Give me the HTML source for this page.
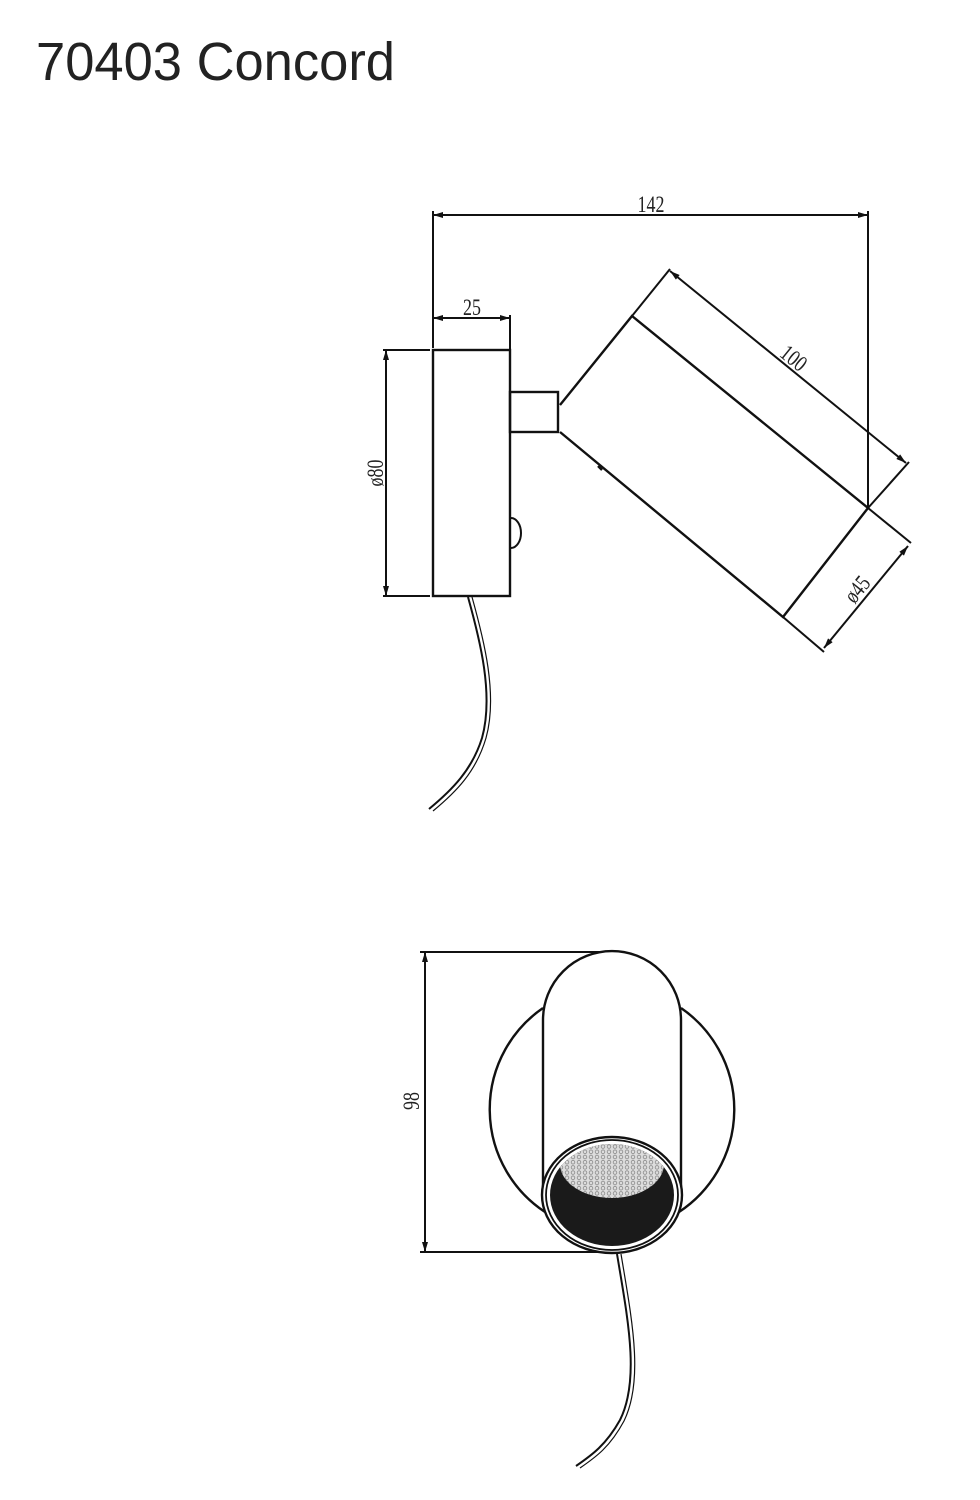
<!DOCTYPE html>
<html><head><meta charset="utf-8"><style>
html,body{margin:0;padding:0;background:#fff;}
svg{display:block;}
</style></head><body>
<svg width="980" height="1500" viewBox="0 0 980 1500" xmlns="http://www.w3.org/2000/svg">
<defs>
<marker id="a" viewBox="0 0 10 6" refX="10" refY="3" markerWidth="11" markerHeight="6" markerUnits="userSpaceOnUse" orient="auto-start-reverse"><path d="M0,0 L10,3 L0,6 z" fill="#111"/></marker>
<pattern id="hex" width="6" height="5.2" patternUnits="userSpaceOnUse"><rect width="6" height="5.2" fill="#ddd"/><circle cx="3" cy="2.6" r="1.8" fill="none" stroke="#888" stroke-width="0.8"/></pattern>
<clipPath id="lensclip"><ellipse cx="612" cy="1195" rx="62" ry="51"/></clipPath>
</defs>
<text x="36" y="80" font-family="Liberation Sans, sans-serif" font-size="54" fill="#222" textLength="359" lengthAdjust="spacingAndGlyphs">70403 Concord</text>

<g stroke="#111" stroke-width="2" fill="none">
<line x1="433" y1="215" x2="868" y2="215" marker-start="url(#a)" marker-end="url(#a)"/>
<line x1="433" y1="211" x2="433" y2="348"/>
<line x1="868" y1="211" x2="868" y2="508"/>
<line x1="433" y1="318" x2="510" y2="318" marker-start="url(#a)" marker-end="url(#a)"/>
<line x1="510" y1="315" x2="510" y2="350"/>
<line x1="386" y1="350" x2="386" y2="596" marker-start="url(#a)" marker-end="url(#a)"/>
<line x1="383" y1="350" x2="430" y2="350"/>
<line x1="383" y1="596" x2="430" y2="596"/>
<rect x="433" y="350" width="77" height="246" stroke-width="2.4"/>
<path d="M511,518 a6,9 0 0 1 0,30"/>
<rect x="510" y="392" width="48" height="40" stroke-width="2.4"/>
<path d="M560,405 L632,316 L868,508 L783,617 L560,432" stroke-width="2.4"/>
<path d="M598,466 L602,470" stroke-width="2.4"/>
<line x1="632" y1="316" x2="670" y2="269"/>
<line x1="868" y1="508" x2="909" y2="462"/>
<line x1="670" y1="271" x2="906" y2="463" marker-start="url(#a)" marker-end="url(#a)"/>
<line x1="868" y1="508" x2="911" y2="543"/>
<line x1="783" y1="617" x2="824" y2="652"/>
<line x1="824" y1="648" x2="908" y2="546" marker-start="url(#a)" marker-end="url(#a)"/>
<path d="M468,597 C480,640 494,695 482,738 C472,770 452,790 429,809"/>
<path d="M472,597 C484,640 498,695 486,738 C476,772 456,792 433,811" stroke-width="1.2"/>

<line x1="425" y1="952" x2="425" y2="1252" marker-start="url(#a)" marker-end="url(#a)"/>
<line x1="420" y1="952" x2="610" y2="952"/>
<line x1="420" y1="1252" x2="612" y2="1252"/>
<path d="M543,1008 A123,123 0 0 0 545,1212" stroke-width="2.4"/>
<path d="M681,1008 A123,123 0 0 1 679,1212" stroke-width="2.4"/>
<path d="M543,1190 L543,1020 A69,69 0 0 1 681,1020 L681,1190" stroke-width="2.4" fill="#fff"/>
</g>
<ellipse cx="612" cy="1195" rx="70" ry="58" fill="#fff" stroke="#111" stroke-width="2.4"/>
<ellipse cx="612" cy="1195" rx="66" ry="55" fill="none" stroke="#111" stroke-width="1.8"/>
<ellipse cx="612" cy="1195" rx="62" ry="51" fill="#1a1a1a"/>
<g clip-path="url(#lensclip)">
<ellipse cx="612" cy="1164" rx="52" ry="34" fill="url(#hex)"/>
</g>
<g stroke="#111" fill="none">
<path d="M617,1254 C628,1320 640,1380 620,1420 C606,1445 592,1455 576,1466" stroke-width="2"/>
<path d="M621,1254 C632,1320 644,1380 624,1421 C610,1447 596,1457 580,1468" stroke-width="1.2"/>
</g>

<g font-family="Liberation Serif, serif" font-size="23" fill="#222">
<text transform="translate(651,212) scale(0.78,1)" text-anchor="middle">142</text>
<text transform="translate(472,315) scale(0.78,1)" text-anchor="middle">25</text>
<text transform="translate(383,473) rotate(-90) scale(0.78,1)" text-anchor="middle">ø80</text>
<text transform="translate(789,364) rotate(39) scale(0.78,1)" text-anchor="middle">100</text>
<text transform="translate(863,594) rotate(-51) scale(0.78,1)" text-anchor="middle">ø45</text>
<text transform="translate(419,1101) rotate(-90) scale(0.78,1)" text-anchor="middle">98</text>
</g>
</svg>
</body></html>
